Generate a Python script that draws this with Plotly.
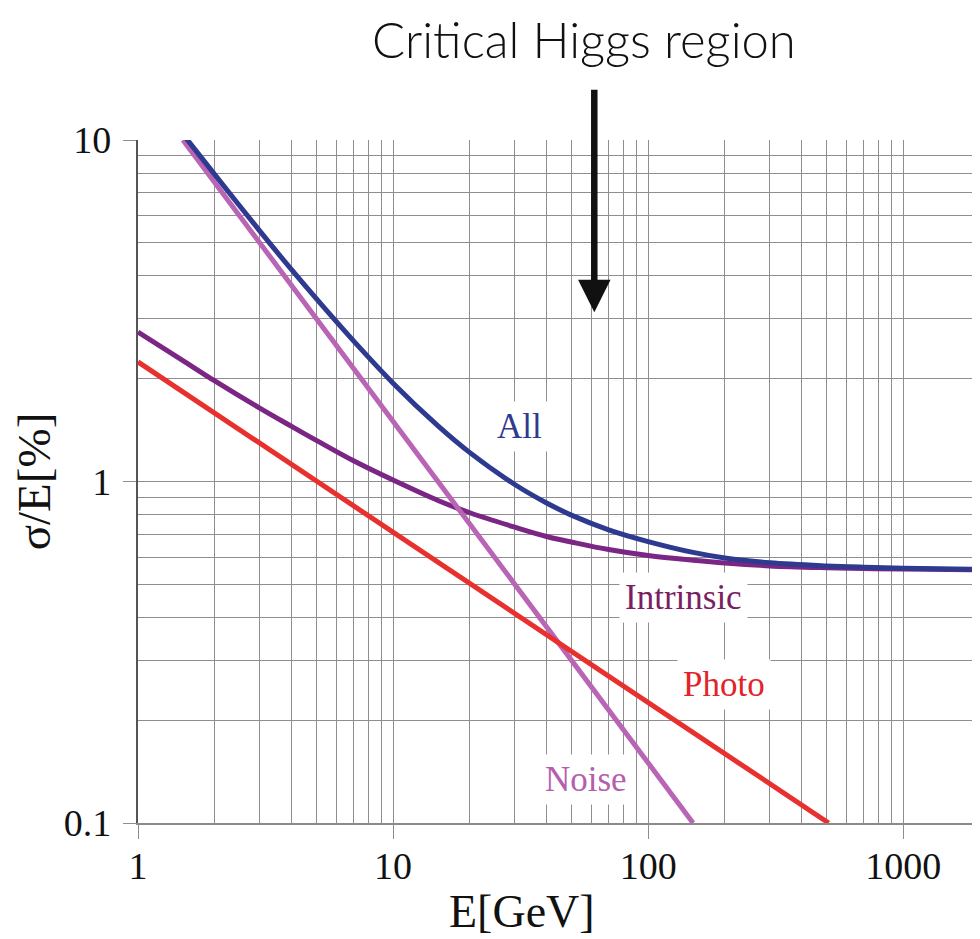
import math
import plotly.graph_objects as go

# ---- data ----
energy_all = [1.5, 2, 3, 4, 5, 7, 10, 15, 20, 30, 40, 50, 70, 100, 150, 200, 300, 500, 700, 1000, 2000]
sigma_all = [10.4, 7.92, 5.42, 4.17, 3.43, 2.58, 1.94, 1.455, 1.215, 0.98, 0.865, 0.797, 0.722, 0.667, 0.62, 0.597, 0.578, 0.566, 0.561, 0.557, 0.553]

energy_intrinsic = [1, 1.5, 2, 3, 4, 5, 7, 10, 15, 20, 30, 40, 50, 70, 100, 150, 200, 300, 500, 700, 1000, 2000]
sigma_intrinsic = [2.74, 2.26, 1.97, 1.64, 1.45, 1.32, 1.15, 1.01, 0.88, 0.81, 0.735, 0.69, 0.665, 0.632, 0.607, 0.588, 0.577, 0.566, 0.559, 0.556, 0.554, 0.551]

energy_photo = [1, 10, 100, 510]
sigma_photo = [2.24, 0.71, 0.224, 0.1]

energy_noise = [1.5, 15, 150]
sigma_noise = [10, 1.0, 0.1]

x_tickvals = [1, 10, 100, 1000]
x_ticktext = ["1", "10", "100", "1000"]
y_tickvals = [0.1, 1, 10]
y_ticktext = ["0.1", "1", "10"]
x_minor = [m * d for d in (1, 10, 100, 1000) for m in range(2, 10) if m * d <= 2000]
y_minor = [m * d for d in (0.1, 1) for m in range(2, 10)]

SERIF = "Liberation Serif, Times New Roman, serif"
C_ALL = "#2e3a8f"
C_INTR = "#7b2585"
C_PHOTO = "#e8302e"
C_NOISE = "#b964b4"
GRID = "#8e8e8e"
LW = 5

fig = go.Figure()
fig.add_trace(go.Scatter(x=energy_intrinsic, y=sigma_intrinsic, mode="lines",
                         line=dict(color=C_INTR, width=LW, shape="spline"), name="Intrinsic"))
fig.add_trace(go.Scatter(x=energy_noise, y=sigma_noise, mode="lines",
                         line=dict(color=C_NOISE, width=LW), name="Noise"))
fig.add_trace(go.Scatter(x=energy_photo, y=sigma_photo, mode="lines",
                         line=dict(color=C_PHOTO, width=LW), name="Photo"))
fig.add_trace(go.Scatter(x=energy_all, y=sigma_all, mode="lines",
                         line=dict(color=C_ALL, width=LW, shape="spline"), name="All"))


def lx(v):
    return math.log10(v)


labels = [
    ("All", 31.3, 1.45, C_ALL),
    ("Intrinsic", 137.0, 0.457, "#7a1f62"),
    ("Photo", 199.0, 0.254, "#e2232a"),
    ("Noise", 57.0, 0.134, "#b45fae"),
]
for text, ex, sy, col in labels:
    fig.add_annotation(x=lx(ex), y=lx(sy), xref="x", yref="y", text=text, showarrow=False,
                       font=dict(family=SERIF, size=35, color=col),
                       bgcolor="white", borderpad=5, xanchor="center", yanchor="middle")

# arrow pointing to the critical Higgs region
fig.add_annotation(x=lx(61.5), y=lx(3.13), xref="x", yref="y", text="", showarrow=True,
                   ax=0, ay=-224, arrowhead=2, arrowsize=1.0, arrowwidth=6.5,
                   arrowcolor="#111111", standoff=0)
fig.add_annotation(x=0.530, y=1.148, xref="paper", yref="paper", text="Critical Higgs region",
                   showarrow=False, font=dict(family="Lato", size=49, color="#111111", weight=300),
                   xanchor="center", yanchor="middle")

# x-axis title (sits left of the plot centre in the reference)
fig.add_annotation(x=0.456, y=-0.130, xref="paper", yref="paper", text="E[GeV]",
                   showarrow=False, font=dict(family=SERIF, size=46, color="#111111"),
                   xanchor="center", yanchor="middle")

fig.update_xaxes(type="log", range=[0, lx(2000)], tickvals=x_tickvals, ticktext=x_ticktext,
                 showgrid=True, gridcolor=GRID, gridwidth=1.2, automargin=False,
                 ticks="outside", ticklen=14, tickcolor=GRID, tickwidth=1.2,
                 tickfont=dict(family=SERIF, size=38, color="#111111"),
                 ticklabelstandoff=-5,
                 showline=True, linecolor="#8a8a8a", linewidth=1.5, mirror=False,
                 minor=dict(tickvals=x_minor, showgrid=True, gridcolor=GRID, gridwidth=1.2, ticks=""),
                 zeroline=False)
fig.update_yaxes(type="log", range=[-1, 1], tickvals=y_tickvals, ticktext=y_ticktext,
                 showgrid=True, gridcolor=GRID, gridwidth=1.2, automargin=False,
                 ticks="outside", ticklen=13, tickcolor=GRID, tickwidth=1.2,
                 tickfont=dict(family=SERIF, size=38, color="#111111"),
                 ticklabelstandoff=4,
                 showline=True, linecolor="#555555", linewidth=2.2,
                 minor=dict(tickvals=y_minor, showgrid=True, gridcolor=GRID, gridwidth=1.2, ticks=""),
                 title=dict(text="σ/E[%]", font=dict(family=SERIF, size=47, color="#111111"), standoff=0),
                 zeroline=False)

# the page body adds an 8 px offset; size and margins compensate so the plot area
# lands at the reference position (x 138..980, y 140..823)
fig.update_layout(width=972, height=931, autosize=False,
                  margin=dict(l=130, r=0, t=132, b=116),
                  paper_bgcolor="white", plot_bgcolor="white", showlegend=False)

fig.write_html("out.html")
